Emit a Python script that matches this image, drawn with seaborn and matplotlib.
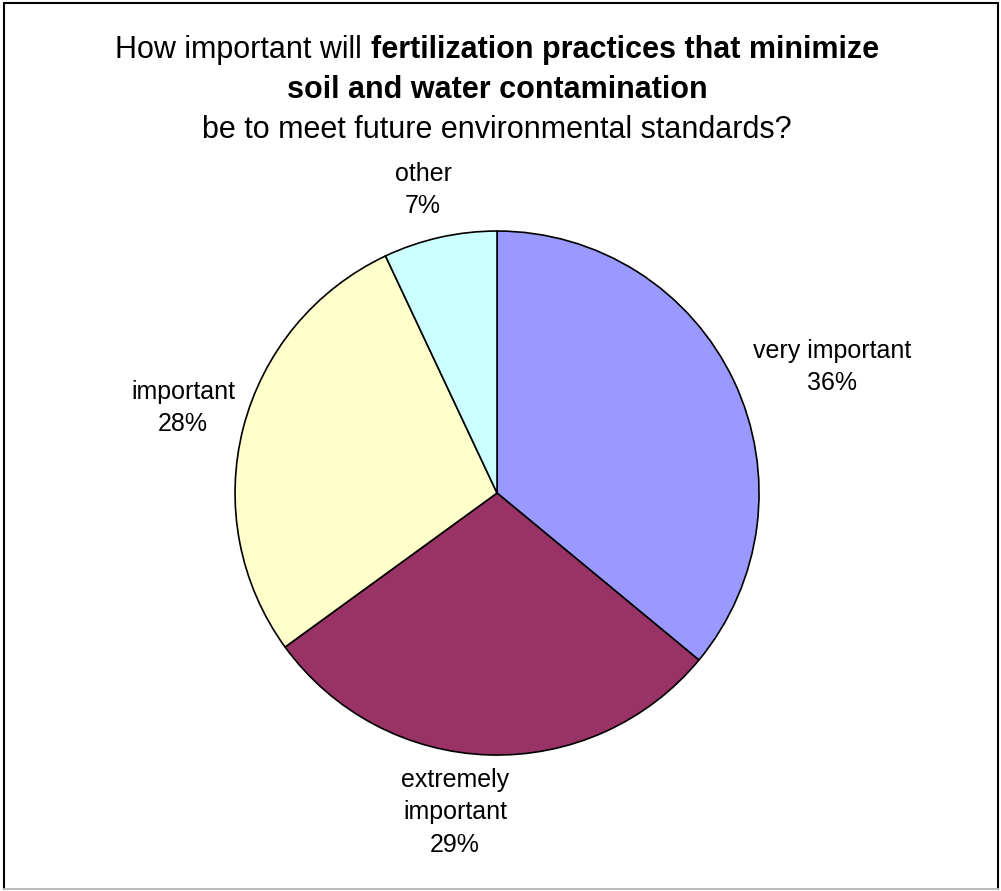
import numpy as np
import matplotlib
matplotlib.use("Agg")
import matplotlib.pyplot as plt
import seaborn as sns
from matplotlib.lines import Line2D

# data
categories = ["very important", "extremely\nimportant", "important", "other"]
shares = [36, 29, 28, 7]
slice_colors = ["#9999FF", "#993366", "#FFFFCC", "#CCFFFF"]

# label centres in pie-radius units (Excel style outside labels)
label_xy = [(1.279, 0.481), (-0.160, -1.218), (-1.198, 0.324), (-0.282, 1.156)]

title_regular = "How important will "
title_bold_1 = "fertilization practices that minimize"
title_bold_2 = "soil and water contamination"
title_line_3 = "be to meet future environmental standards?"

sns.set_theme(style="white")
plt.rcParams['font.family'] = ['Liberation Sans', 'DejaVu Sans']
plt.rcParams['text.color'] = 'black'

fig = plt.figure(figsize=(10.01, 8.91), dpi=100)
fig.patch.set_facecolor("white")

# pie axes: centre ~ (497, 493) px, radius ~262 px
ax = fig.add_axes([0.2348, 0.1526, 0.5235, 0.5881])
wedges, _ = ax.pie(shares, colors=sns.color_palette(slice_colors), startangle=90,
                   counterclock=False,
                   wedgeprops=dict(edgecolor="black", linewidth=1.2))
ax.set_xlim(-1, 1)
ax.set_ylim(-1, 1)
ax.set_aspect("equal")
ax.axis("off")

total = sum(shares)
for name, val, (lx, ly) in zip(categories, shares, label_xy):
    pct = round(100 * val / total)
    ax.text(lx, ly, f"{name}\n{pct}%", ha="center", va="center",
            fontsize=18, color="black", linespacing=1.45, clip_on=False)

# title with mixed bold on the first line
fig.canvas.draw()
renderer = fig.canvas.get_renderer()
cx = 497 / 1001
y1 = 1 - 50 / 891
y2 = 1 - 90 / 891
y3 = 1 - 130 / 891
fs = 22

t_reg = fig.text(0, y1, title_regular, fontsize=fs, ha="left", va="center", color="black")
t_bold = fig.text(0, y1, title_bold_1, fontsize=fs, fontweight="bold", ha="left",
                  va="center", color="black")
w_reg = t_reg.get_window_extent(renderer).width / fig.bbox.width
w_bold = t_bold.get_window_extent(renderer).width / fig.bbox.width
x0 = cx - (w_reg + w_bold) / 2
t_reg.set_x(x0)
t_bold.set_x(x0 + w_reg)

fig.text(cx, y2, title_bold_2, fontsize=fs, fontweight="bold", ha="center", va="center",
         color="black")
fig.text(cx, y3, title_line_3, fontsize=fs, ha="center", va="center", color="black")

# outer frame
fx0, fx1 = 4 / 1001, 998 / 1001
fy0, fy1 = 2 / 891, 888.5 / 891
for xs, ys, c in [((fx0, fx1), (fy1, fy1), "black"),
                  ((fx0, fx0), (fy0, fy1), "black"),
                  ((fx1, fx1), (fy0, fy1), "black"),
                  ((fx0, fx1), (fy0, fy0), "#BBBBBB")]:
    fig.add_artist(Line2D(xs, ys, transform=fig.transFigure, color=c, linewidth=1.5))

fig.savefig("out.png", dpi=100)
